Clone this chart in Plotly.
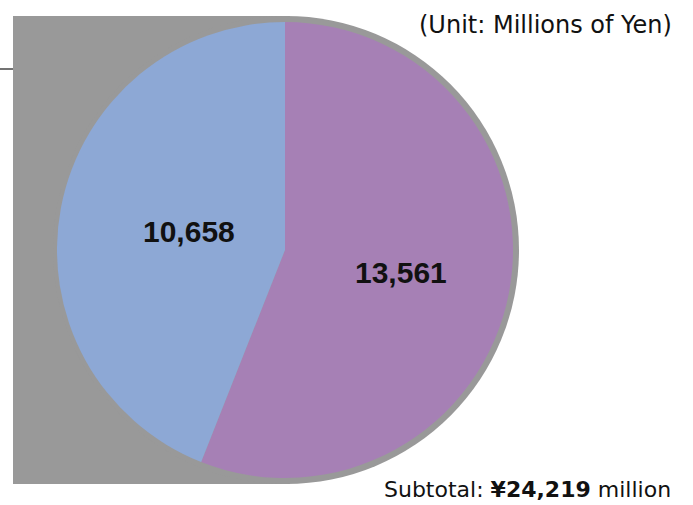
import math
import plotly.graph_objects as go

W, H = 693, 505

categories = ["Purple segment", "Blue segment"]
values = [13561, 10658]
colors = ["#A680B5", "#8DA8D5"]
unit_text = "(Unit: Millions of Yen)"
subtotal = sum(values)

# pie geometry (pixels)
CX, CY, R = 285, 250, 228
LABEL_R = [0.52, 0.43]  # radial position of each value label, as a fraction of the radius


def px(x):
    return x / W


def py(y):
    return 1 - y / H


fig = go.Figure()
fig.add_trace(go.Pie(
    labels=categories,
    values=values,
    marker=dict(colors=colors, line=dict(width=0)),
    sort=False,
    direction="clockwise",
    rotation=0,
    textinfo="none",
    showlegend=False,
    hoverinfo="label+value",
    domain=dict(x=[px(CX - R), px(CX + R)], y=[py(CY + R), py(CY - R)]),
))

shapes = [
    dict(type="rect", xref="paper", yref="paper", x0=px(13), x1=px(290), y0=py(484), y1=py(16),
         fillcolor="#999999", line=dict(width=0), layer="below"),
    dict(type="circle", xref="paper", yref="paper", x0=px(53), x1=px(519), y0=py(484), y1=py(16),
         fillcolor="#999999", line=dict(width=0), layer="below"),
    dict(type="line", xref="paper", yref="paper", x0=0, x1=px(13), y0=py(69), y1=py(69),
         line=dict(color="#444444", width=1.5)),
]

annotations = []
total = sum(values)
cum = 0
for v, fr in zip(values, LABEL_R):
    mid = (cum + v / 2) / total * 2 * math.pi  # clockwise from 12 o'clock
    cum += v
    lx = CX + fr * R * math.sin(mid)
    ly = CY - fr * R * math.cos(mid)
    annotations.append(dict(
        text=f"{v:,}", xref="paper", yref="paper", x=px(lx), y=py(ly),
        xanchor="center", yanchor="middle", showarrow=False,
        font=dict(family="Liberation Sans", size=30, color="#111111", weight="bold"),
    ))

annotations += [
    dict(text=unit_text, xref="paper", yref="paper", x=px(674), y=py(25), xanchor="right", yanchor="middle",
         showarrow=False, font=dict(family="DejaVu Sans", size=24, color="#111111")),
    dict(text=f"Subtotal: <b>¥{subtotal:,}</b> million", xref="paper", yref="paper", x=px(673), y=py(489),
         xanchor="right", yanchor="middle", showarrow=False,
         font=dict(family="DejaVu Sans", size=22, color="#111111")),
]

fig.update_layout(
    width=W, height=H,
    margin=dict(l=0, r=0, t=0, b=0),
    paper_bgcolor="white",
    plot_bgcolor="white",
    shapes=shapes,
    annotations=annotations,
)

fig.write_html("out.html", config={"displayModeBar": False},
               post_script="document.body.style.margin='0';")
